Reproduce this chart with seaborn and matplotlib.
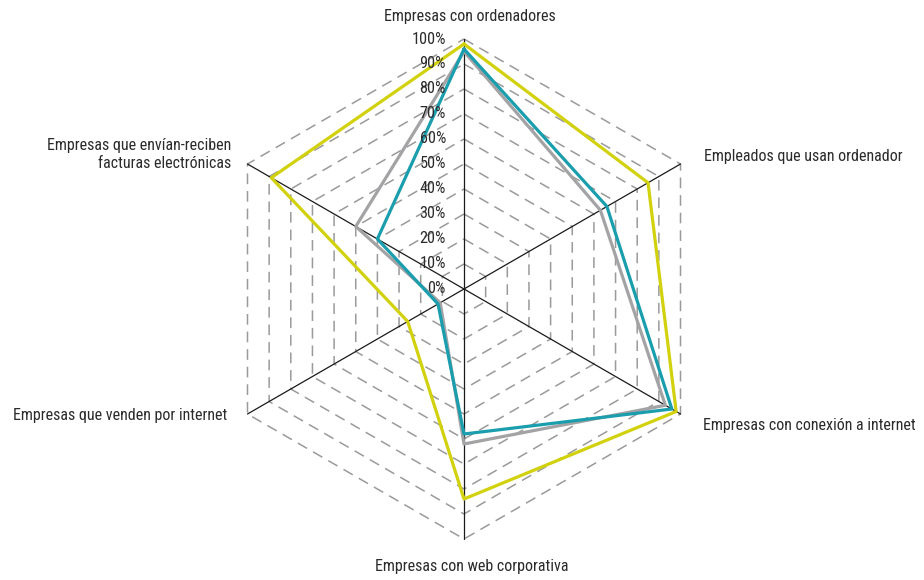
import numpy as np
import pandas as pd
import matplotlib
matplotlib.use("Agg")
import matplotlib.pyplot as plt
import seaborn as sns

# Indicator names, clockwise from the top
categories = [
    "Empresas con ordenadores",
    "Empleados que usan ordenador",
    "Empresas con conexión a internet",
    "Empresas con web corporativa",
    "Empresas que venden por internet",
    "Empresas que envían-reciben\nfacturas electrónicas",
]

# Percentages per series, same order as categories
serie_amarilla = [98, 85, 98, 84, 26, 89]
serie_gris = [95, 63, 93, 62, 11, 50]
serie_azul = [96, 66, 96, 58, 12, 40]

ring_levels = [10, 20, 30, 40, 50, 60, 70, 80, 90, 100]
tick_labels = ["0%", "10%", "20%", "30%", "40%", "50%", "60%", "70%", "80%", "90%", "100%"]

series = {
    "amarilla": serie_amarilla,
    "gris": serie_gris,
    "azul": serie_azul,
}
palette = {"amarilla": "#d2d10e", "gris": "#a3a3a5", "azul": "#1a9eae"}

sns.set_theme(style="white")
plt.rcParams["font.family"] = ["Roboto Condensed", "Archivo Narrow", "DejaVu Sans"]

n = len(categories)
angles = np.deg2rad(90 - 360 / n * np.arange(n))

fig = plt.figure(figsize=(9.24, 5.8), dpi=100)
ax = fig.add_axes([0, 0, 1, 1])
scale = 2.5  # pixels per percentage point
cx, cy = 464, 289
ax.set_xlim(-cx / scale, (924 - cx) / scale)
ax.set_ylim(-(580 - cy) / scale, cy / scale)
ax.set_aspect("equal")
ax.axis("off")

# Hexagonal dashed rings
ring_x = np.cos(np.append(angles, angles[0]))
ring_y = np.sin(np.append(angles, angles[0]))
for lvl in ring_levels:
    ax.plot(lvl * ring_x, lvl * ring_y, color="#9a9a9a", lw=1.1,
            dashes=(7, 4.5), zorder=1)

# Spokes
for a in angles:
    ax.plot([0, 100 * np.cos(a)], [0, 100 * np.sin(a)], color="#1a1a1a",
            lw=0.9, zorder=2)

# Series polygons (closed by repeating the first vertex)
rows = []
ang = np.append(angles, angles[0])
for name, vals in series.items():
    closed = list(vals) + [vals[0]]
    for v, a in zip(closed, ang):
        rows.append({"serie": name, "x": v * np.cos(a), "y": v * np.sin(a)})
df = pd.DataFrame(rows)
sns.lineplot(data=df, x="x", y="y", hue="serie", sort=False, estimator=None,
             palette=palette, lw=2.3, legend=False, ax=ax, zorder=3)

# Radial tick labels
for lvl, lab in zip([0] + ring_levels, tick_labels):
    ax.text(-7.2, lvl, lab, ha="right", va="center", fontsize=11.7,
            color="#2b2b2b", zorder=4)

# Category labels around the chart
offsets = [(6, 23, "center"),
           (23, 7, "left"),
           (22, -12, "left"),
           (8, -28, "center"),
           (-20, -2, "right"),
           (-16, 9, "right")]
for lab, a, (dx, dy, ha) in zip(categories, angles, offsets):
    ax.annotate(lab, xy=(100 * np.cos(a), 100 * np.sin(a)),
                xytext=(dx, dy), textcoords="offset pixels",
                ha=ha, va="center", fontsize=11.5, color="#2b2b2b",
                multialignment="right", linespacing=1.25)

fig.savefig("out.png", dpi=100)
